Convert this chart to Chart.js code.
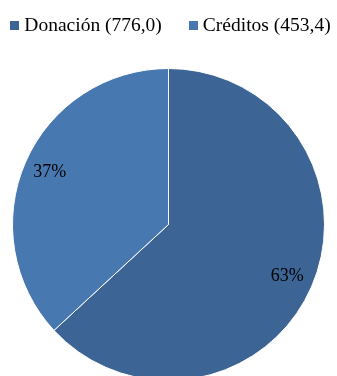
<!DOCTYPE html>
<html>
<head>
<meta charset="utf-8">
<script src="https://cdn.jsdelivr.net/npm/chart.js@4.4.0/dist/chart.umd.min.js"></script>
<style>
  html, body { margin: 0; padding: 0; background: #fff; overflow: hidden; }
  #wrap { width: 337px; height: 381px; position: relative; }
</style>
</head>
<body>
<div id="wrap"><canvas id="pie"></canvas></div>
<script>
const categories = ['Donación', 'Créditos'];
const amounts = [776.0, 453.4];
const sliceColors = ['#3C6494', '#4878B0'];

const serif = '"Liberation Serif", "Times New Roman", serif';

// "Donación (776,0)" style legend text, decimal comma
const legendLabels = categories.map((c, i) => c + ' (' + amounts[i].toFixed(1).replace('.', ',') + ')');

// legend row on top: small square, short gap, text; items spread apart
const topLegend = {
    id: 'topLegend',
    afterDraw(chart) {
        const ctx = chart.ctx;
        const box = 9, gap = 5, itemGap = 27;
        ctx.save();
        ctx.font = '19.5px ' + serif;
        ctx.textBaseline = 'alphabetic';
        const widths = legendLabels.map(t => ctx.measureText(t).width);
        const total = widths.reduce((s, w) => s + box + gap + w, 0) + itemGap * (widths.length - 1);
        let x = (chart.width - total) / 2 + 2;
        legendLabels.forEach((t, i) => {
            ctx.fillStyle = sliceColors[i];
            ctx.fillRect(Math.round(x), 21, box, box);
            ctx.fillStyle = '#000';
            ctx.fillText(t, x + box + gap, 31);
            x += box + gap + widths[i] + itemGap;
        });
        ctx.restore();
    }
};

// percentage text placed along each slice's middle angle
const pctLabels = {
    id: 'pctLabels',
    afterDatasetsDraw(chart) {
        const ctx = chart.ctx;
        const meta = chart.getDatasetMeta(0);
        const total = amounts.reduce((a, b) => a + b, 0);
        ctx.save();
        ctx.font = '18px ' + serif;
        ctx.fillStyle = '#000';
        ctx.textAlign = 'center';
        ctx.textBaseline = 'middle';
        meta.data.forEach((arc, i) => {
            const p = arc.getProps(['x', 'y', 'startAngle', 'endAngle', 'outerRadius'], true);
            const mid = (p.startAngle + p.endAngle) / 2;
            const r = p.outerRadius * 0.83;
            const pct = Math.round(amounts[i] / total * 100) + '%';
            ctx.fillText(pct, p.x + Math.cos(mid) * r, p.y + Math.sin(mid) * r);
        });
        ctx.restore();
    }
};

new Chart(document.getElementById('pie'), {
    type: 'pie',
    data: {
        labels: legendLabels,
        datasets: [{
            data: amounts,
            backgroundColor: sliceColors,
            borderColor: '#fff',
            borderWidth: 1
        }]
    },
    options: {
        responsive: true,
        maintainAspectRatio: false,
        animation: false,
        layout: { padding: { top: 68, left: 0, right: 0, bottom: 0 } },
        plugins: {
            legend: { display: false },
            tooltip: { enabled: false }
        }
    },
    plugins: [pctLabels, topLegend]
});
</script>
</body>
</html>
